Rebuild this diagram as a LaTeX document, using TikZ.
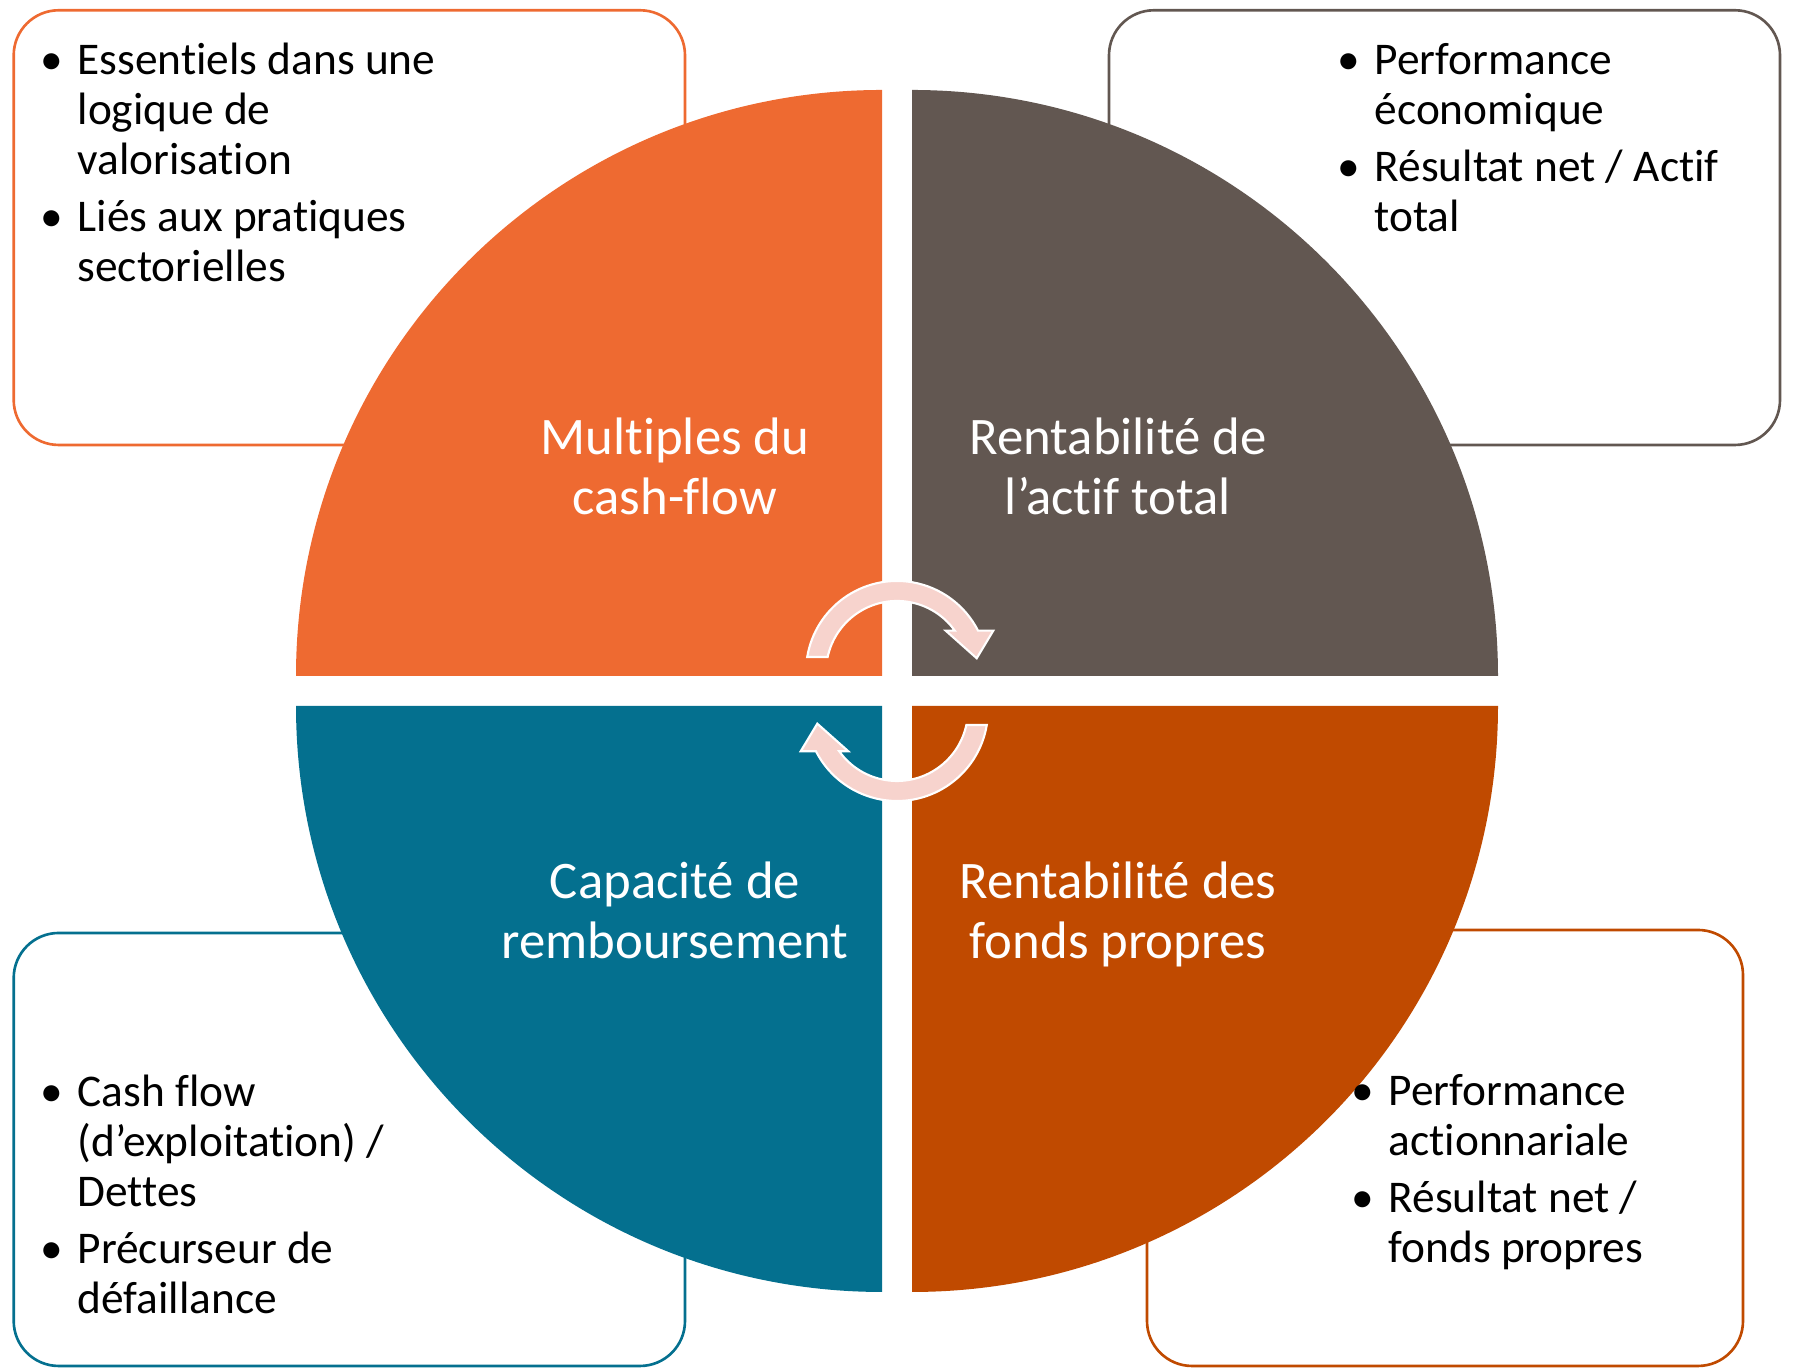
\documentclass[tikz,border=0pt]{standalone}
\usepackage{fontspec}
\setmainfont{Carlito}[Ligatures={NoCommon}]
\definecolor{qorange}{HTML}{EE6A31}
\definecolor{qbrown}{HTML}{625751}
\definecolor{qteal}{HTML}{04708F}
\definecolor{qrust}{HTML}{C04A00}
\definecolor{arrowpink}{HTML}{F7D3CD}
\tikzset{
  infobox/.style={line width=0.75pt, rounded corners=0.45cm},
  qlabel/.style={text=white, inner sep=0pt, anchor=base,
    font=\fontsize{15}{16.95}\selectfont},
  bullets/.style={inner sep=0pt, anchor=base west,
    font=\fontsize{12.9}{14.2}\selectfont},
  cyclearrow/.style={fill=arrowpink, draw=white, line width=0.6pt}
}
\begin{document}
\begin{tikzpicture}[x=0.01cm, y=0.01cm]
          \useasboundingbox (0,0) rectangle (1793,1368);
          % boxes
          \draw[infobox, qorange] (13.7,923) rectangle (685,1357.7);
          \draw[infobox, qbrown] (1109,923) rectangle (1780,1357.7);
          \draw[infobox, qteal] (13.7,2) rectangle (685,435);
          \draw[infobox, qrust] (1147,2) rectangle (1743,438);
          % quadrants
          \foreach \a/\c in {0/qbrown, 90/qorange, 180/qteal, 270/qrust} {
            \fill[\c, shift={(\a+45:21.21)}] (897,677) -- ++(\a:586)
              arc[start angle=\a, end angle=\a+90, radius=586] -- cycle;
          }
          % labels
          \node[qlabel] (multiples) at (675,913)
            {\begin{tabular}[t]{@{}c@{}}Multiples du\\cash-flow\end{tabular}};
          \node[qlabel] (actif) at (1118,913)
            {\begin{tabular}[t]{@{}c@{}}Rentabilité de\\l’actif total\end{tabular}};
          \node[qlabel] (capacite) at (675,469)
            {\begin{tabular}[t]{@{}c@{}}Capacité de\\remboursement\end{tabular}};
          \node[qlabel] (fonds) at (1118,469)
            {\begin{tabular}[t]{@{}c@{}}Rentabilité des\\fonds propres\end{tabular}};
          % lists
          \node[bullets] (multiplesList) at (40,1293) {\begin{tabular}[t]{@{}p{10.5pt}@{}l@{}}
            \textbullet & Essentiels dans une\\
                        & logique de\\
                        & valorisation\\[1.9pt]
            \textbullet & Liés aux pratiques\\
                        & sectorielles
          \end{tabular}};
          \node[bullets] (actifList) at (1337,1293) {\begin{tabular}[t]{@{}p{10.5pt}@{}l@{}}
            \textbullet & Performance\\
                        & économique\\[1.9pt]
            \textbullet & Résultat net / Actif\\
                        & total
          \end{tabular}};
          \node[bullets] (capaciteList) at (40,261) {\begin{tabular}[t]{@{}p{10.5pt}@{}l@{}}
            \textbullet & Cash flow\\
                        & (d’exploitation) /\\
                        & Dettes\\[1.9pt]
            \textbullet & Précurseur de\\
                        & défaillance
          \end{tabular}};
          \node[bullets] (fondsList) at (1351,262) {\begin{tabular}[t]{@{}p{10.5pt}@{}l@{}}
            \textbullet & Performance\\
                        & actionnariale\\[1.9pt]
            \textbullet & Résultat net /\\
                        & fonds propres
          \end{tabular}};
          % arrows
          \foreach \r in {0,180} {
            \draw[cyclearrow, rotate around={\r:(897,677)}] (807.2,711)
              arc[start angle=170.52, end angle=27, radius=91]
              -- (993.3,737.3) -- (976.7,709.7) -- (945.7,737.3) -- (954.8,737.3)
              arc[start angle=35.57, end angle=167.8, radius=71] -- cycle;
          }
        \end{tikzpicture}
\end{document}
